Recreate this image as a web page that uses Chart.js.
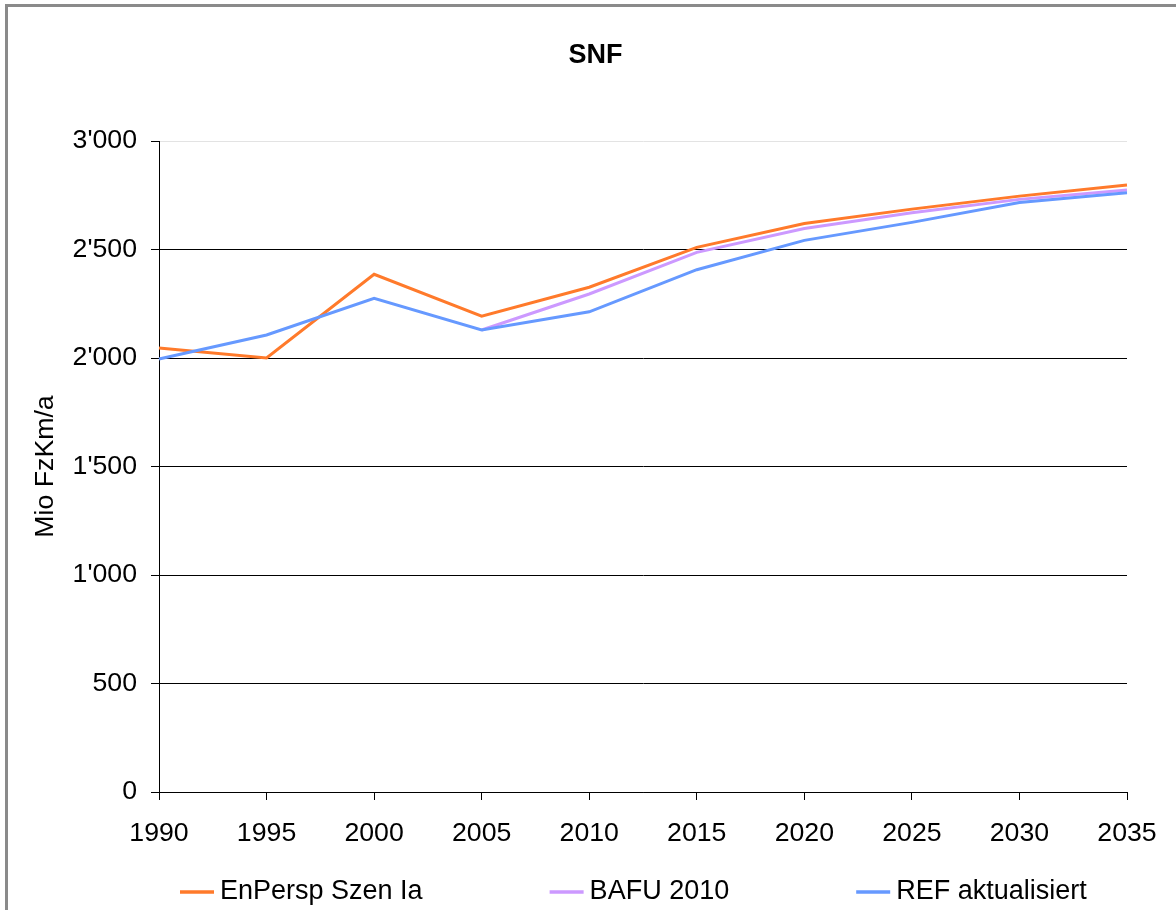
<!DOCTYPE html>
<html>
<head>
<meta charset="utf-8">
<script src="https://cdn.jsdelivr.net/npm/chart.js@4"></script>
<style>
  html, body { margin: 0; padding: 0; background: #fff; overflow: hidden; }
  #wrap { position: relative; width: 1176px; height: 910px; background: #fff; }
  #frame { position: absolute; left: 5px; top: 4px; width: 1300px; height: 1000px;
           border-left: 3px solid #8a8a8a; border-top: 3px solid #8a8a8a; box-sizing: border-box; }
  canvas { position: absolute; left: 0; top: 0; }
</style>
</head>
<body>
<div id="wrap">
  <div id="frame"></div>
  <canvas id="c" width="1176" height="910"></canvas>
</div>
<script>
const chartTitle = "SNF";
const yAxisTitle = "Mio FzKm/a";
const years = ["1990", "1995", "2000", "2005", "2010", "2015", "2020", "2025", "2030", "2035"];
const seriesNames = ["EnPersp Szen Ia", "BAFU 2010", "REF aktualisiert"];
const enPersp = [2046, 2000, 2386, 2193, 2326, 2510, 2620, 2686, 2746, 2797];
const bafu2010 = [null, null, null, 2129, 2295, 2487, 2597, 2669, 2731, 2774];
const refAkt = [1995, 2106, 2275, 2129, 2213, 2407, 2542, 2625, 2717, 2761];
const yTickValues = [0, 500, 1000, 1500, 2000, 2500, 3000];
const colors = ["#FF7A2B", "#CC99FF", "#6699FF"];

const FONT = "'Liberation Sans', Arial, sans-serif";

function swiss(v) {
  return String(v).replace(/\B(?=(\d{3})+(?!\d))/g, "'");
}

const customTitleLegend = {
  id: 'customTitleLegend',
  afterDraw(chart) {
    const ctx = chart.ctx;
    ctx.save();
    // title
    ctx.font = "bold 27px " + FONT;
    ctx.textBaseline = 'middle';
    ctx.textAlign = 'center';
    ctx.fillStyle = '#000';
    ctx.fillText(chartTitle, 595.5, 56);
    // legend
    ctx.font = "27px " + FONT;
    ctx.textBaseline = 'middle';
    ctx.textAlign = 'left';
    let x = 180;
    const y = 892;
    const lineLen = 34, gap = 6, itemGap = 127;
    chart.data.datasets.forEach(ds => {
      ctx.strokeStyle = ds.borderColor;
      ctx.lineWidth = 3.5;
      ctx.beginPath();
      ctx.moveTo(x, y);
      ctx.lineTo(x + lineLen, y);
      ctx.stroke();
      ctx.fillStyle = '#000';
      const tx = x + lineLen + gap;
      ctx.fillText(ds.label, tx, y);
      x = tx + ctx.measureText(ds.label).width + itemGap;
    });
    ctx.restore();
  }
};

const datasets = [
  { label: seriesNames[0], data: enPersp, borderColor: colors[0], order: 3 },
  { label: seriesNames[1], data: bafu2010, borderColor: colors[1], order: 2 },
  { label: seriesNames[2], data: refAkt, borderColor: colors[2], order: 1 }
].map(d => Object.assign({
  backgroundColor: d.borderColor,
  borderWidth: 3,
  pointRadius: 0,
  pointHoverRadius: 0,
  tension: 0,
  fill: false,
  spanGaps: false
}, d));

new Chart(document.getElementById('c'), {
  type: 'line',
  data: { labels: years, datasets: datasets },
  plugins: [customTitleLegend],
  options: {
    responsive: false,
    animation: false,
    devicePixelRatio: 1,
    layout: { padding: { left: 14, right: 49, top: 0, bottom: 0 } },
    plugins: {
      legend: { display: false },
      tooltip: { enabled: false },
      title: {
        display: true,
        text: chartTitle,
        color: 'rgba(0,0,0,0)',
        font: { family: FONT, size: 27, weight: 'bold' },
        padding: { top: 38, bottom: 70.6 }
      }
    },
    scales: {
      x: {
        type: 'category',
        offset: false,
        grid: {
          drawOnChartArea: false,
          drawTicks: true,
          tickLength: 8,
          color: '#000',
          tickColor: '#000'
        },
        border: { display: true, color: '#000', width: 1 },
        ticks: {
          color: '#000',
          font: { family: FONT, size: 26.7 },
          padding: 18,
          maxRotation: 0,
          autoSkip: false
        },
        afterFit(scale) { scale.height = 118; }
      },
      y: {
        min: 0,
        max: 3000,
        afterBuildTicks(scale) { scale.ticks = yTickValues.map(v => ({ value: v })); },
        grid: {
          drawTicks: true,
          tickLength: 8,
          color: ctx => (ctx.tick && ctx.tick.value === 3000) ? '#e3e3e3' : '#000',
          tickColor: '#000',
          lineWidth: 1
        },
        border: { display: true, color: '#000', width: 1 },
        ticks: {
          color: '#000',
          font: { family: FONT, size: 26.7 },
          padding: 14,
          callback: v => swiss(v)
        },
        title: {
          display: true,
          text: yAxisTitle,
          color: '#000',
          font: { family: FONT, size: 26.7 },
          padding: { top: 16, bottom: 0 }
        },
        afterFit(scale) { scale.width = 145; }
      }
    }
  }
});
</script>
</body>
</html>
